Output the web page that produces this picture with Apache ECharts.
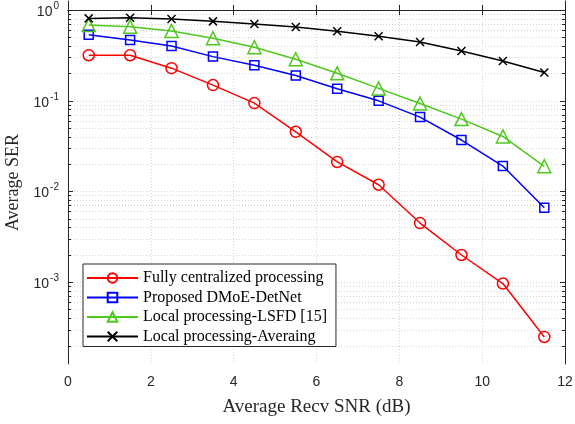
<!DOCTYPE html>
<html>
<head>
<meta charset="utf-8">
<script src="https://cdn.jsdelivr.net/npm/echarts@6/dist/echarts.min.js"></script>
<style>
  html, body { margin: 0; padding: 0; background: #fff; }
  #chart { width: 575px; height: 424px; }
</style>
</head>
<body>
<div id="chart"></div>
<script>
// x positions (dB)
const snr = [0.5, 1.5, 2.5, 3.5, 4.5, 5.5, 6.5, 7.5, 8.5, 9.5, 10.5, 11.5];

// SER values
const serCentral = [0.318, 0.318, 0.229, 0.149, 0.0944, 0.0456, 0.0212, 0.0119, 0.0045, 0.0020, 0.00097, 0.00025];
const serDmoe    = [0.535, 0.468, 0.402, 0.307, 0.247, 0.190, 0.136, 0.100, 0.0662, 0.037, 0.0191, 0.00662];
const serLsfd    = [0.684, 0.656, 0.588, 0.489, 0.389, 0.287, 0.201, 0.137, 0.0934, 0.0629, 0.0405, 0.019];
const serAvg     = [0.810, 0.824, 0.796, 0.751, 0.702, 0.650, 0.583, 0.514, 0.445, 0.354, 0.275, 0.205];

const seriesNames = [
  'Fully centralized processing',
  'Proposed DMoE-DetNet',
  'Local processing-LSFD [15]',
  'Local processing-Averaing'
];

// y axis in log10 units
const yMin = -3.9, yMax = 0.1;
const majorExp = [-3, -2, -1, 0];
const minorMult = [2, 3, 4, 5, 6, 7, 8, 9];
const minorDecades = [-4, -3, -2, -1];

let gridVals = majorExp.slice();
minorDecades.forEach(d => {
  minorMult.forEach(k => {
    let v = Math.log10(k) + d;
    if (v > yMin && v < yMax) gridVals.push(v);
  });
});

const toPts = arr => arr.map((v, i) => [snr[i], Math.log10(v)]);

const serif = 'Liberation Serif';
const sans = 'Liberation Sans';
const ink = '#262626';
const gridLine = {color: '#d4d4d4', type: [1, 2], width: 1};

let chart = echarts.init(document.getElementById('chart'));

const yBase = {
  type: 'value', min: yMin, max: yMax,
  axisLine: {show: false},
  axisLabel: {show: false},
  splitLine: {show: false}
};

chart.setOption({
  animation: false,
  backgroundColor: '#fff',
  grid: {left: 68, right: 10, top: 1, bottom: 60, containLabel: false, outerBoundsMode: 'none'},
  xAxis: [
    {
      type: 'value', min: 0, max: 12, interval: 2, position: 'bottom',
      name: 'Average Recv SNR (dB)', nameLocation: 'middle', nameGap: 34,
      nameTextStyle: {fontFamily: serif, fontSize: 19, color: ink},
      axisLine: {show: true, lineStyle: {color: ink, width: 1}},
      axisTick: {show: true, inside: true, length: 5, lineStyle: {color: ink}},
      axisLabel: {fontFamily: sans, fontSize: 14, color: ink, margin: 11,
                  showMinLabel: true, showMaxLabel: true},
      splitLine: {show: true, lineStyle: gridLine}
    },
    {
      type: 'value', min: 0, max: 12, interval: 2, position: 'top',
      axisLine: {show: true, lineStyle: {color: ink, width: 1}},
      axisTick: {show: true, inside: true, length: 5, lineStyle: {color: ink}},
      axisLabel: {show: false},
      splitLine: {show: false}
    }
  ],
  yAxis: [
    Object.assign({}, yBase, {
      position: 'left',
      name: 'Average SER', nameLocation: 'middle', nameGap: 43, nameRotate: 90,
      nameTextStyle: {fontFamily: serif, fontSize: 18, color: ink},
      axisLine: {show: true, lineStyle: {color: ink, width: 1}},
      axisTick: {show: true, inside: true, length: 5, customValues: majorExp,
                 lineStyle: {color: ink}},
      axisLabel: {
        show: true, customValues: majorExp, margin: 9,
        formatter: v => '{b|10}{s|' + Math.round(v) + '}',
        rich: {
          b: {fontFamily: sans, fontSize: 14, color: ink, lineHeight: 18, verticalAlign: 'bottom'},
          s: {fontFamily: sans, fontSize: 10, color: ink, lineHeight: 18, verticalAlign: 'top', padding: [0, 0, 0, 1]}
        }
      }
    }),
    Object.assign({}, yBase, {
      position: 'left',
      axisTick: {show: true, inside: true, length: 3, customValues: gridVals,
                 lineStyle: {color: ink}},
      splitLine: {show: true, lineStyle: gridLine}
    }),
    Object.assign({}, yBase, {
      position: 'right',
      axisLine: {show: true, lineStyle: {color: ink, width: 1}},
      axisTick: {show: true, inside: true, length: 5, customValues: majorExp,
                 lineStyle: {color: ink}}
    }),
    Object.assign({}, yBase, {
      position: 'right',
      axisTick: {show: true, inside: true, length: 3, customValues: gridVals,
                 lineStyle: {color: ink}}
    })
  ],
  legend: {
    orient: 'vertical', left: 83, top: 264,
    backgroundColor: '#fff', borderColor: ink, borderWidth: 1,
    padding: [6, 9, 2, 3], itemWidth: 51, itemHeight: 12, itemGap: 3.5,
    textStyle: {fontFamily: serif, fontSize: 16, color: '#000', lineHeight: 16},
    data: seriesNames
  },
  series: [
    {
      name: seriesNames[0], type: 'line', data: toPts(serCentral),
      symbol: 'circle', symbolSize: 11,
      lineStyle: {color: '#ff0000', width: 1.5},
      itemStyle: {color: 'rgba(255,255,255,0)', borderColor: '#ff0000', borderWidth: 1.5}
    },
    {
      name: seriesNames[1], type: 'line', data: toPts(serDmoe),
      symbol: 'rect', symbolSize: 9,
      lineStyle: {color: '#0000ff', width: 1.5},
      itemStyle: {color: 'rgba(255,255,255,0)', borderColor: '#0000ff', borderWidth: 1.5}
    },
    {
      name: seriesNames[2], type: 'line', data: toPts(serLsfd),
      symbol: 'triangle', symbolSize: 13,
      lineStyle: {color: '#4fc81c', width: 1.5},
      itemStyle: {color: 'rgba(255,255,255,0)', borderColor: '#4fc81c', borderWidth: 1.5}
    },
    {
      name: seriesNames[3], type: 'line', data: toPts(serAvg),
      symbol: 'path://M0,0L10,10M10,0L0,10', symbolSize: 8,
      lineStyle: {color: '#000000', width: 1.5},
      itemStyle: {color: 'rgba(0,0,0,0)', borderColor: '#000000', borderWidth: 1.5}
    }
  ]
});
</script>
</body>
</html>
